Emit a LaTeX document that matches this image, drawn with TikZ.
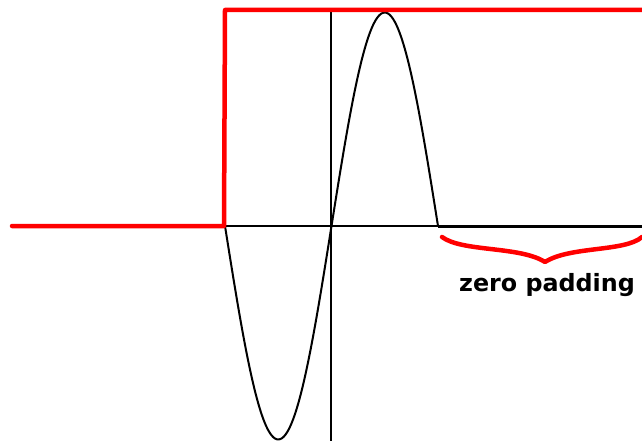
\documentclass[tikz,border=0pt]{standalone}
\usepackage{fontspec}
\setsansfont{DejaVu Sans}
\begin{document}
\begin{tikzpicture}[x=1pt,y=-1pt,
  redline/.style={draw=red,line width=4.5pt,line join=round,line cap=round},
  axisline/.style={draw=black,line width=1.5pt},
  wave/.style={draw=black,line width=2pt,line join=round},
  padline/.style={draw=black,line width=3pt},
  bracestyle/.style={draw=red,line width=4.5pt,line cap=round,line join=round},
  lbl/.style={font=\sffamily\bfseries\fontsize{23.8}{26}\selectfont,inner sep=0pt}]
\useasboundingbox (0,0) rectangle (642,441);
\coordinate (o) at (331,226);
\coordinate (xl) at (225,226);
\coordinate (xe) at (438,226);
\coordinate (xr) at (642,226);
\coordinate (yt) at (331,12);
\coordinate (yb) at (331,441);
\draw[axisline] (xl) -- (xe);
\draw[axisline] (yt) -- (yb);
\draw[padline] (xe) -- (xr);
\draw[wave] plot[domain=0:213,samples=120,smooth] ({225+\x},{226+213.5*sin(1.690141*\x)});
\coordinate (r0) at (12,226);
\coordinate (r1) at (224,226);
\coordinate (r2) at (225,10);
\coordinate (r3) at (644,10);
\draw[redline] (r0) -- (r1) -- (r2) -- (r3);
\coordinate (bl) at (442,237);
\coordinate (bm) at (545,262);
\coordinate (br) at (642,237);
\draw[bracestyle] (bl) .. controls (462,252) and (520,246) .. (bm) .. controls (570,246) and (625,252) .. (br);
\node[lbl] (zp) at (547,285) {zero padding};
\end{tikzpicture}
\end{document}
